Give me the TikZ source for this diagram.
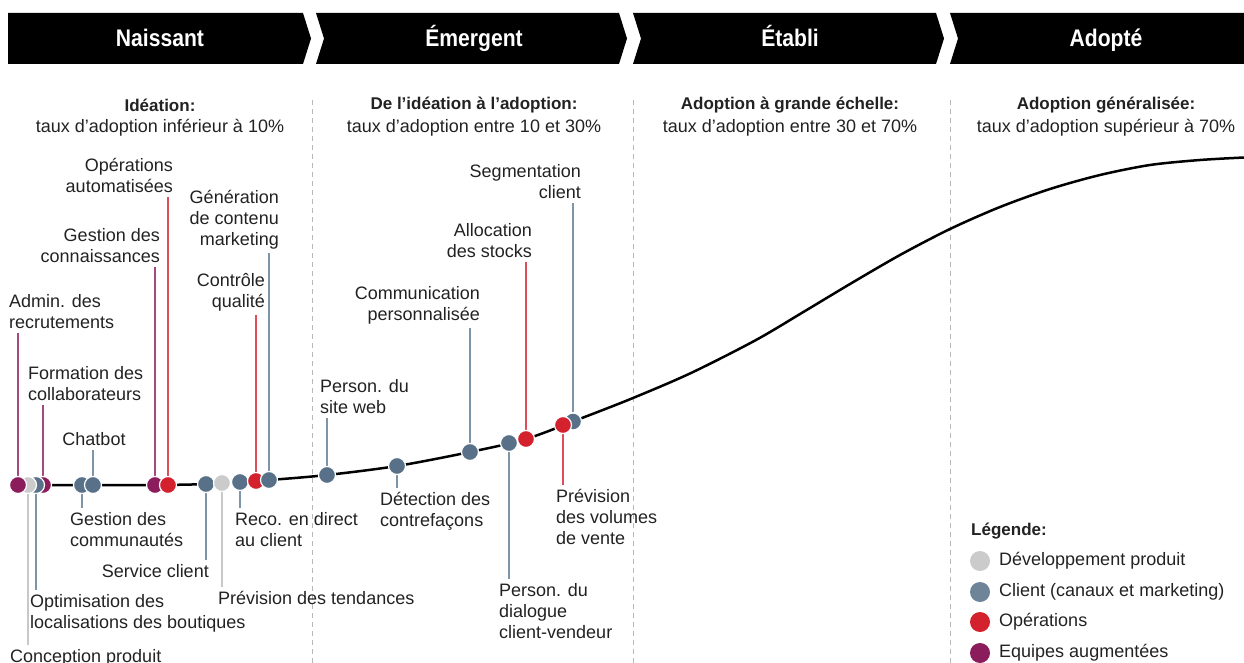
\documentclass[tikz,border=0pt]{standalone}
\usepackage{fontspec}
\setmainfont{Liberation Sans}
\newfontfamily\hdrfont[FakeStretch=0.88]{Liberation Sans}
\usetikzlibrary{positioning}
\pgfdeclarelayer{bg}
\pgfsetlayers{bg,main}
\definecolor{cpur}{HTML}{8C1D5C}
\definecolor{cgry}{HTML}{CBCBCB}
\definecolor{cblu}{HTML}{587189}
\definecolor{cred}{HTML}{D3212D}
\definecolor{lpur}{HTML}{A24A80}
\definecolor{lgry}{HTML}{C8C8C8}
\definecolor{lblu}{HTML}{7E94A7}
\definecolor{lred}{HTML}{DC4E59}
\definecolor{legblu}{HTML}{6E8599}
\definecolor{ctxt}{HTML}{222222}
\begin{document}
\begin{tikzpicture}[x=1pt,y=-1pt,
  txt/.style={font=\fontsize{18}{21}\selectfont, text=ctxt, inner xsep=0pt, inner ysep=4pt},
  btxt/.style={font=\fontsize{17}{21}\selectfont\bfseries, text=ctxt, inner sep=0pt},
  stxt/.style={font=\fontsize{18}{21}\selectfont, text=ctxt, inner sep=0pt},
  hdr/.style={font=\hdrfont\fontsize{24}{26}\selectfont\bfseries, text=white, inner sep=0pt, anchor=base},
  dot/.style={circle, fill=#1, draw=white, line width=1.2pt, minimum size=17pt, inner sep=0pt},
  legdot/.style={circle, fill=#1, minimum size=20pt, inner sep=0pt},
  conn/.style={draw=#1, line width=1.3pt},
  sep/.style={draw=black!28, line width=1pt, dash pattern=on 5pt off 4pt}
]
\useasboundingbox (0,0) rectangle (1244,663);

% header chevrons
\fill[black] (8,13) -- (303,13) -- (311,38.5) -- (303,64) -- (8,64) -- cycle;
\fill[black] (316,13) -- (619,13) -- (627,38.5) -- (619,64) -- (316,64) -- (324,38.5) -- cycle;
\fill[black] (633,13) -- (936,13) -- (944,38.5) -- (936,64) -- (633,64) -- (641,38.5) -- cycle;
\fill[black] (950,13) -- (1244,13) -- (1244,64) -- (950,64) -- (958,38.5) -- cycle;
\node[hdr] (h1) at (160,47) {Naissant};
\node[hdr] (h2) at (474,47) {Émergent};
\node[hdr] (h3) at (790,47) {Établi};
\node[hdr] (h4) at (1106,47) {Adopté};

% separators
\draw[sep] (312,100) -- (312,663);
\draw[sep] (633,100) -- (633,663);
\draw[sep] (950,100) -- (950,663);

% phase descriptions
\node[btxt] (s1a) at (160,105) {Idéation:};
\node[stxt] (s1b) at (160,128) {taux d’adoption inférieur à 10\%};
\node[btxt] (s2a) at (474,105) {De l’idéation à l’adoption:};
\node[stxt] (s2b) at (474,128) {taux d’adoption entre 10 et 30\%};
\node[btxt] (s3a) at (790,105) {Adoption à grande échelle:};
\node[stxt] (s3b) at (790,128) {taux d’adoption entre 30 et 70\%};
\node[btxt] (s4a) at (1106,105) {Adoption généralisée:};
\node[stxt] (s4b) at (1106,128) {taux d’adoption supérieur à 70\%};

% curve
\draw[line width=2.5pt, line cap=round] plot[smooth, tension=0.5] coordinates {(18,485) (150,485) (206,484) (269,480) (327,475) (397,466) (470,452) (526,439) (582,418) (633,398) (691,373) (756,340) (805,311) (850,284) (900,255) (950,229) (1000,207) (1050,189) (1100,175) (1150,165) (1200,160) (1244,157.5)};

% dots
\node[dot=cpur] (dD) at (43,485) {};
\node[dot=cblu] (dC) at (36,485) {};
\node[dot=cgry] (dB) at (28,485) {};
\node[dot=cpur] (dA) at (18,485) {};
\node[dot=cblu] (dE) at (82,485) {};
\node[dot=cblu] (dF) at (93,485) {};
\node[dot=cpur] (dG) at (155,485) {};
\node[dot=cred] (dH) at (168,485) {};
\node[dot=cblu] (dI) at (206,484) {};
\node[dot=cgry] (dJ) at (222,483) {};
\node[dot=cblu] (dK) at (240,482) {};
\node[dot=cred] (dL) at (256,481) {};
\node[dot=cblu] (dM) at (269,480) {};
\node[dot=cblu] (dN) at (327,475) {};
\node[dot=cblu] (dO) at (397,466) {};
\node[dot=cblu] (dP) at (470,452) {};
\node[dot=cblu] (dQ) at (509,443) {};
\node[dot=cred] (dR) at (526,439) {};
\node[dot=cblu] (dS) at (573,421.5) {};
\node[dot=cred] (dT) at (563,425) {};

% labels above
\node[txt, anchor=south west, align=left] (lA) at (9,333) {Admin. des\\recrutements};
\node[txt, anchor=south west, align=left] (lD) at (28,405) {Formation des\\collaborateurs};
\node[txt, anchor=south] (lF) at (94,450) {Chatbot};
\node[txt, anchor=south east, align=right] (lG) at (160,267) {Gestion des\\connaissances};
\node[txt, anchor=south east, align=right] (lH) at (173,197) {Opérations\\automatisées};
\node[txt, anchor=south east, align=right] (lL) at (265,315) {Contrôle\\qualité};
\node[txt, anchor=south east, align=right] (lM) at (279,253) {Génération\\de contenu\\marketing};
\node[txt, anchor=south west, align=left] (lN) at (320,418) {Person. du\\site web};
\node[txt, anchor=south east, align=right] (lP) at (480,328) {Communication\\personnalisée};
\node[txt, anchor=south east, align=right] (lR) at (532,262) {Allocation\\des stocks};
\node[txt, anchor=south east, align=right] (lS) at (581,203) {Segmentation\\client};

% labels below
\node[txt, anchor=north west, align=left] (lB) at (10,645) {Conception produit};
\node[txt, anchor=north west, align=left] (lC) at (30,590) {Optimisation des\\localisations des boutiques};
\node[txt, anchor=north west, align=left] (lE) at (70,508) {Gestion des\\communautés};
\node[txt, anchor=north east] (lI) at (209,560) {Service client};
\node[txt, anchor=north west] (lJ) at (218,587) {Prévision des tendances};
\node[txt, anchor=north west, align=left] (lK) at (235,508) {Reco. en direct\\au client};
\node[txt, anchor=north west, align=left] (lO) at (380,488) {Détection des\\contrefaçons};
\node[txt, anchor=north west, align=left] (lQ) at (499,579) {Person. du\\dialogue\\client-vendeur};
\node[txt, anchor=north west, align=left] (lT) at (556,485) {Prévision\\des volumes\\de vente};

% connectors
\begin{pgfonlayer}{bg}
\draw[conn=lpur] (dA) -- (dA |- lA.south);
\draw[conn=lpur] (dD) -- (dD |- lD.south);
\draw[conn=lblu] (dF) -- (dF |- lF.south);
\draw[conn=lpur] (dG) -- (dG |- lG.south);
\draw[conn=lred] (dH) -- (dH |- lH.south);
\draw[conn=lred] (dL) -- (dL |- lL.south);
\draw[conn=lblu] (dM) -- (dM |- lM.south);
\draw[conn=lblu] (dN) -- (dN |- lN.south);
\draw[conn=lblu] (dP) -- (dP |- lP.south);
\draw[conn=lred] (dR) -- (dR |- lR.south);
\draw[conn=lblu] (dS) -- (dS |- lS.south);
\draw[conn=lgry] (dB) -- (dB |- lB.north);
\draw[conn=lblu] (dC) -- (dC |- lC.north);
\draw[conn=lblu] (dE) -- (dE |- lE.north);
\draw[conn=lblu] (dI) -- (dI |- lI.north);
\draw[conn=lgry] (dJ) -- (dJ |- lJ.north);
\draw[conn=lblu] (dK) -- (dK |- lK.north);
\draw[conn=lblu] (dO) -- (dO |- lO.north);
\draw[conn=lblu] (dQ) -- (dQ |- lQ.north);
\draw[conn=lred] (dT) -- (dT |- lT.north);
\end{pgfonlayer}

% legend
\node[btxt, anchor=west] (leg) at (971,531) {Légende:};
\node[legdot=cgry] (g1) at (980,561) {};
\node[legdot=legblu] (g2) at (980,592) {};
\node[legdot=cred] (g3) at (980,622) {};
\node[legdot=cpur] (g4) at (980,653) {};
\node[stxt, anchor=west] (t1) at (999,561) {Développement produit};
\node[stxt, anchor=west] (t2) at (999,592) {Client (canaux et marketing)};
\node[stxt, anchor=west] (t3) at (999,622) {Opérations};
\node[stxt, anchor=west] (t4) at (999,653) {Equipes augmentées};
\end{tikzpicture}
\end{document}
